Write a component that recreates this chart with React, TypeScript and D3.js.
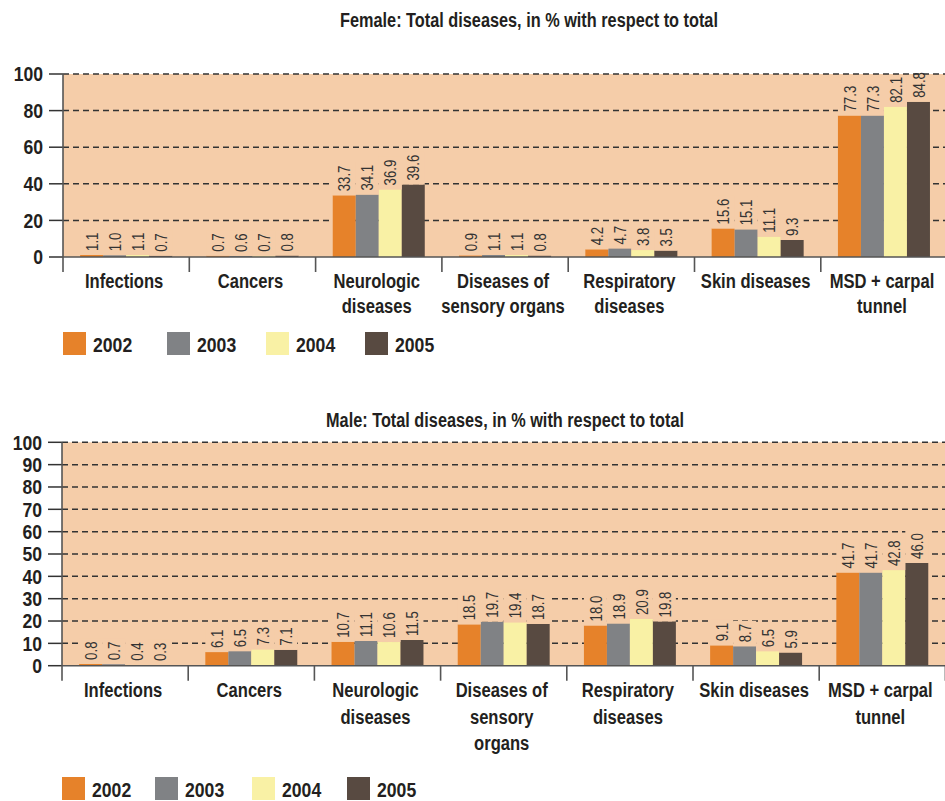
import React, { useEffect, useRef } from 'react'
import * as d3 from 'd3'

// categories (one label line per array entry)
const femaleCategories = [
  ['Infections'],
  ['Cancers'],
  ['Neurologic', 'diseases'],
  ['Diseases of', 'sensory organs'],
  ['Respiratory', 'diseases'],
  ['Skin diseases'],
  ['MSD + carpal', 'tunnel']
]
const maleCategories = [
  ['Infections'],
  ['Cancers'],
  ['Neurologic', 'diseases'],
  ['Diseases of', 'sensory', 'organs'],
  ['Respiratory', 'diseases'],
  ['Skin diseases'],
  ['MSD + carpal', 'tunnel']
]

const years = ['2002', '2003', '2004', '2005']
const colors = ['#E6822A', '#808285', '#F9F1A5', '#584A41']

// female, % per year
const female2002 = [1.1, 0.7, 33.7, 0.9, 4.2, 15.6, 77.3]
const female2003 = [1.0, 0.6, 34.1, 1.1, 4.7, 15.1, 77.3]
const female2004 = [1.1, 0.7, 36.9, 1.1, 3.8, 11.1, 82.1]
const female2005 = [0.7, 0.8, 39.6, 0.8, 3.5, 9.3, 84.8]

// male, % per year
const male2002 = [0.8, 6.1, 10.7, 18.5, 18.0, 9.1, 41.7]
const male2003 = [0.7, 6.5, 11.1, 19.7, 18.9, 8.7, 41.7]
const male2004 = [0.4, 7.3, 10.6, 19.4, 20.9, 6.5, 42.8]
const male2005 = [0.3, 7.1, 11.5, 18.7, 19.8, 5.9, 46.0]

const femaleTicks = [0, 20, 40, 60, 80, 100]
const maleTicks = [0, 10, 20, 30, 40, 50, 60, 70, 80, 90, 100]

const femaleTitle = 'Female: Total diseases, in % with respect to total'
const maleTitle = 'Male: Total diseases, in % with respect to total'

const FONT = '"Liberation Sans", Arial, sans-serif'
const TEXT = '#231F20'
const BG = '#F5CDA9'

// text squeezed horizontally to imitate a condensed face
function label (g, x, y, str, o) {
  const rot = o.rotate ? ' rotate(-90)' : ''
  return g.append('text')
    .attr('transform', 'translate(' + x + ',' + y + ')' + rot + ' scale(' + o.sx + ',1)')
    .attr('text-anchor', o.anchor || 'start')
    .attr('dy', o.dy || null)
    .attr('font-family', FONT)
    .attr('font-weight', o.bold ? 'bold' : 'normal')
    .attr('font-size', o.size)
    .attr('fill', o.fill || TEXT)
    .text(str)
}

function drawPanel (svg, p) {
  const g = svg.append('g')
  const n = p.labels.length

  const x = d3.scaleBand()
    .domain(d3.range(n))
    .range([p.left, p.left + p.band * n])
  const x1 = d3.scaleBand()
    .domain(years)
    .range([0, p.band])
    .paddingOuter(0.745)
  const y = d3.scaleLinear()
    .domain([0, 100])
    .range([p.bottom, p.top])

  // background
  g.append('rect')
    .attr('x', p.left)
    .attr('y', p.top)
    .attr('width', 945 - p.left)
    .attr('height', p.bottom - p.top)
    .attr('fill', BG)

  // grid + y ticks
  p.ticks.forEach(t => {
    g.append('line')
      .attr('x1', p.left - 14).attr('x2', p.left)
      .attr('y1', y(t)).attr('y2', y(t))
      .attr('stroke', '#333').attr('stroke-width', 1.5)
    if (t > 0) {
      g.append('line')
        .attr('class', 'grid')
        .attr('x1', p.left).attr('x2', 945)
        .attr('y1', y(t)).attr('y2', y(t))
        .attr('stroke', '#333').attr('stroke-width', 1.5)
        .attr('stroke-dasharray', '6,4')
    }
    label(g, p.left - 20, y(t), t, { anchor: 'end', dy: '0.36em', bold: true, size: 20, sx: 0.88 })
  })

  // bars
  p.series.forEach((vals, si) => {
    g.append('g')
      .selectAll('rect')
      .data(vals)
      .enter()
      .append('rect')
      .attr('x', (d, i) => x(i) + x1(years[si]))
      .attr('y', d => y(d))
      .attr('width', x1.bandwidth())
      .attr('height', d => p.bottom - y(d))
      .attr('fill', colors[si])
  })

  // value labels, knocked out of the grid (but not past the top line)
  const knock = g.append('g')
  const vlab = g.append('g')
  p.series.forEach((vals, si) => {
    vals.forEach((d, i) => {
      const bx = x(i) + x1(years[si])
      const sx = 0.78
      const t = label(vlab, bx + x1.bandwidth() / 2, y(d) - 4, d.toFixed(1), { rotate: true, dy: '0.36em', size: 17, sx, fill: '#333' })
      const len = t.node().getComputedTextLength() * sx
      const top = Math.max(p.top + 1, y(d) - 4 - len - 3)
      knock.append('rect')
        .attr('x', bx)
        .attr('y', top)
        .attr('width', x1.bandwidth())
        .attr('height', y(d) - top)
        .attr('fill', BG)
    })
  })

  // axes
  g.append('line')
    .attr('x1', p.left).attr('x2', 945)
    .attr('y1', p.bottom).attr('y2', p.bottom)
    .attr('stroke', '#555').attr('stroke-width', 1.6)
  g.append('line')
    .attr('x1', p.left).attr('x2', p.left)
    .attr('y1', p.top).attr('y2', p.bottom + 15)
    .attr('stroke', '#555').attr('stroke-width', 1.6)
  d3.range(1, n + 1).forEach(i => {
    const xx = p.left + p.band * i
    g.append('line')
      .attr('x1', xx).attr('x2', xx)
      .attr('y1', p.bottom).attr('y2', p.bottom + 15)
      .attr('stroke', '#555').attr('stroke-width', 1.6)
  })

  // category labels
  p.labels.forEach((lines, i) => {
    lines.forEach((l, li) => {
      label(g, x(i) + p.band / 2 - 2, p.labelY + li * p.lineH, l, { anchor: 'middle', bold: true, size: 21, sx: 0.79 })
    })
  })

  // title
  label(g, p.titleX, p.titleY, p.title, { anchor: 'middle', bold: true, size: 20.5, sx: 0.795 })

  // legend
  years.forEach((yr, i) => {
    const lx = p.legendX[i]
    g.append('rect')
      .attr('x', lx).attr('y', p.legendY)
      .attr('width', 23).attr('height', 23)
      .attr('fill', colors[i])
    label(g, lx + 30, p.legendY + 20, yr, { bold: true, size: 21, sx: 0.84 })
  })
}

export default function App () {
  const ref = useRef(null)

  useEffect(() => {
    const svg = d3.select(ref.current)
    svg.selectAll('*').remove()

    drawPanel(svg, {
      title: femaleTitle,
      titleX: 529,
      titleY: 27,
      labels: femaleCategories,
      series: [female2002, female2003, female2004, female2005],
      ticks: femaleTicks,
      left: 63,
      band: 126.3,
      top: 74,
      bottom: 257,
      labelY: 288,
      lineH: 25,
      legendX: [63, 167, 266, 365],
      legendY: 332
    })

    drawPanel(svg, {
      title: maleTitle,
      titleX: 505,
      titleY: 427,
      labels: maleCategories,
      series: [male2002, male2003, male2004, male2005],
      ticks: maleTicks,
      left: 62,
      band: 126.2,
      top: 442.3,
      bottom: 665.7,
      labelY: 697,
      lineH: 26.5,
      legendX: [62, 155, 252, 347],
      legendY: 777
    })
  }, [])

  return (
    <svg
      ref={ref}
      width={945}
      height={801}
      style={{ position: 'absolute', left: 0, top: 0, background: '#fff' }}
    />
  )
}
